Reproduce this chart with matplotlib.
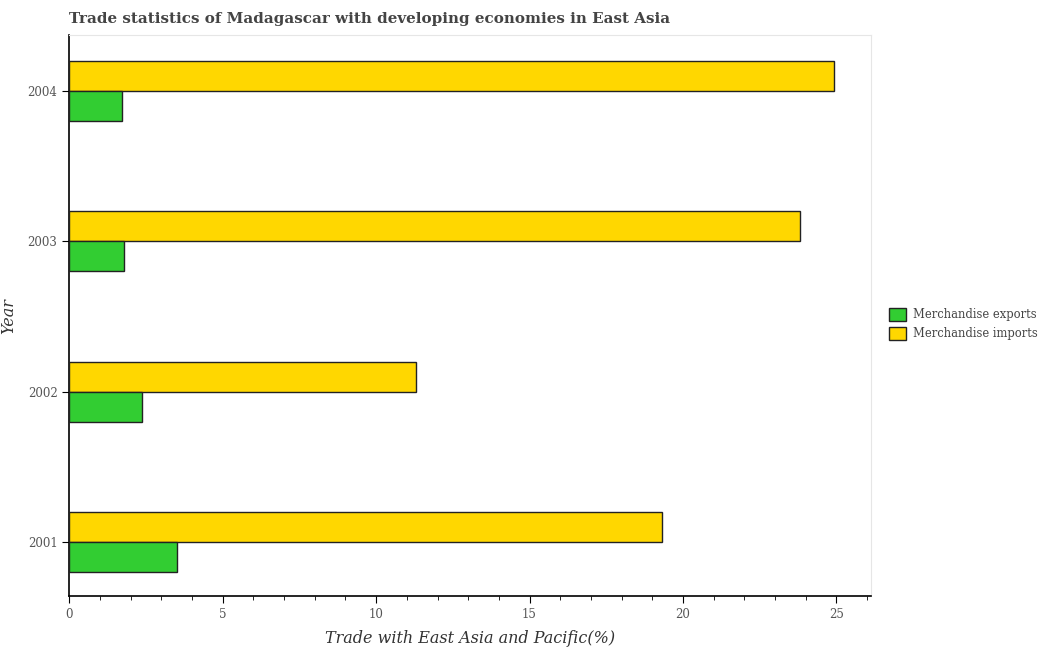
import numpy as np
import matplotlib
matplotlib.use("Agg")
import matplotlib.pyplot as plt
from matplotlib.ticker import MultipleLocator

years = ["2001", "2002", "2003", "2004"]
exports = [3.50, 2.37, 1.77, 1.72]
imports = [19.33, 11.30, 23.82, 24.92]

plt.rcParams["font.family"] = ["DejaVu Serif"]

fig = plt.figure(figsize=(10.46, 6.5), dpi=100)
ax = fig.add_axes([0.0663, 0.083, 0.7664, 0.863])

y = np.arange(len(years))
h = 0.2
ax.barh(y + h / 2, imports, height=h, color="#ffd700", edgecolor="#222222",
        lw=1, label="Merchandise imports", zorder=3)
ax.barh(y - h / 2, exports, height=h, color="#32cd32", edgecolor="#222222",
        lw=1, label="Merchandise exports", zorder=3)

ax.set_xlim(0, 26.13)
ax.set_ylim(-0.36, 3.373)
ax.set_yticks(y)
ax.set_yticklabels(years)
ax.xaxis.set_major_locator(MultipleLocator(5))
ax.xaxis.set_minor_locator(MultipleLocator(1))
ax.tick_params(axis="both", which="major", labelsize=8.5, labelcolor="#555555",
               length=5, color="black")
ax.tick_params(axis="x", which="minor", length=3, color="black")

for s in ["top", "right"]:
    ax.spines[s].set_color("#e6e6e6")
for s in ["left", "bottom"]:
    ax.spines[s].set_color("black")
    ax.spines[s].set_linewidth(1.2)

ax.set_xlabel("Trade with East Asia and Pacific(%)", fontsize=11.5, style="italic",
              color="#333333")
ax.xaxis.set_label_coords(0.5, -0.06)
ax.set_ylabel("Year", fontsize=11.5, style="italic", color="#333333")
ax.yaxis.set_label_coords(-0.065, 0.5)
ax.set_title("Trade statistics of Madagascar with developing economies in East Asia",
             loc="left", fontsize=10.9, fontweight="bold", color="#444444", pad=9)

handles, labels = ax.get_legend_handles_labels()
leg = ax.legend(handles[::-1], labels[::-1], loc="center left",
                bbox_to_anchor=(1.009, 0.485), frameon=False, fontsize=8.3,
                handlelength=1.48, handleheight=1.4, handletextpad=0.6,
                labelspacing=0.52)
for t in leg.get_texts():
    t.set_color("#444444")

fig.savefig("out.png", dpi=100)
